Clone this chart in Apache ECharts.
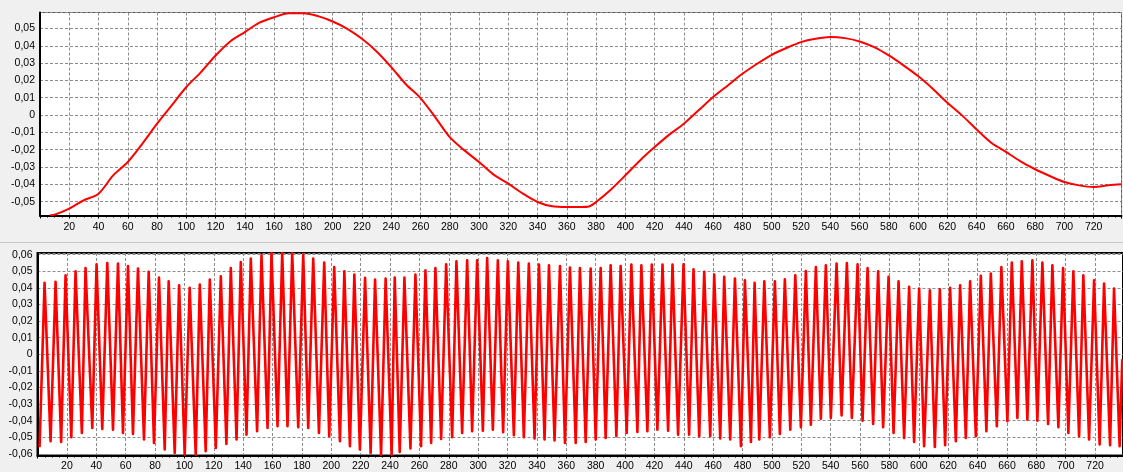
<!DOCTYPE html>
<html>
<head>
<meta charset="utf-8">
<script src="https://cdn.jsdelivr.net/npm/echarts@6/dist/echarts.min.js"></script>
<style>
html,body{margin:0;padding:0;background:#f0f0f0;}
#c{width:1123px;height:472px;}
</style>
</head>
<body>
<div id="c"></div>
<script>
// ---- top chart: smooth signal ----
const topX = [7,10,20,30,40,50,60,70,80,90,100,110,120,130,140,150,160,170,180,190,200,210,220,230,240,250,260,270,280,290,300,310,320,330,340,350,360,370,375,380,390,400,410,420,430,440,450,460,470,480,490,500,510,520,530,540,550,560,570,580,590,600,610,620,630,640,650,660,670,680,690,700,710,720,730,739];
const topY = [-0.0579,-0.0575,-0.054,-0.0492,-0.0454,-0.0348,-0.0271,-0.0165,-0.005,0.0056,0.0162,0.0248,0.0344,0.0425,0.0479,0.0533,0.0565,0.0587,0.0588,0.0571,0.054,0.0498,0.044,0.0367,0.0277,0.0178,0.0098,-0.0012,-0.0128,-0.0204,-0.0271,-0.0344,-0.0396,-0.0454,-0.0502,-0.0527,-0.0531,-0.0531,-0.0528,-0.0502,-0.0431,-0.0348,-0.0262,-0.0185,-0.0113,-0.005,0.0027,0.0104,0.0171,0.0238,0.0296,0.0348,0.0387,0.0421,0.044,0.045,0.0444,0.0425,0.0392,0.0344,0.0287,0.0225,0.0152,0.0071,-0.0002,-0.0083,-0.016,-0.0213,-0.0267,-0.0313,-0.0352,-0.0387,-0.0406,-0.0415,-0.0406,-0.04];

// ---- bottom chart: oscillating signal, successive troughs / peaks ----
const lowX = [1.4,4.8,8.9,12.3,16.1,19.1,23.0,25.9,30.2,32.7,37.3,40.2,44.1,47.5,51.4,54.8,58.2,61.6,65.0,68.4,72.5,75.7,79.3,82.7,86.6,89.3,93.4,96.4,100.2,103.6,107.7,110.5,114.5,117.3,121.4,124.8,128.6,131.6,135.5,138.4,142.3,145.2,149.5,152.5,156.6,159.3,163.4,166.6,170.2,173.4,177.5,180.9,184.3,187.7,191.6,195.2,198.6,202.0,205.9,208.9,212.7,215.7,219.5,223.0,226.8,229.8,233.9,237.0,241.1,243.2,246.6,249.8,253.9,257.3,261.1,264.1,268.0,270.9,274.8,278.2,282.3,285.2,289.1,292.5,295.9,299.3,303.2,306.1,310.0,313.4,317.0,320.2,324.3,327.3,331.1,334.5,338.4,341.4,345.2,348.2,352.0,355.7,359.1,362.5,366.4,369.3,373.2,376.6,380.0,383.4,386.8,390.2,394.1,397.0,401.1,404.3,408.4,411.1,415.2,418.2,422.0,425.5,429.3,432.3,436.1,439.8,443.6,446.6,450.5,453.9,458.0,460.7,464.8,467.5,471.6,474.8,478.9,481.6,485.7,488.2,491.4,494.8,498.6,502.0,505.4,508.8,512.5,515.9,519.7,523.1,526.5,529.9,533.3,536.7,540.1,544.0,547.4,551.0,554.4,558.3,561.7,565.1,568.9,572.3,575.7,579.4,582.8,586.2,590.0,593.4,596.8,600.2,603.6,607.5,610.9,614.3,617.9,621.3,625.2,628.1,632.0,634.9,638.8,642.2,646.0,649.0,653.1,656.2,660.3,663.3,667.1,670.1,673.9,677.3,680.7,684.1,688.0,690.9,695.0,698.2,701.8,705.2,709.1,712.0,715.9,719.3,723.1,726.1,730.2,732.9,736.7,738.5];
const lowY = [-0.056,0.043,-0.0524,0.0436,-0.0528,0.0476,-0.05,0.05,-0.0474,0.052,-0.0444,0.0542,-0.045,0.055,-0.0454,0.0546,-0.0474,0.0532,-0.048,0.0516,-0.0514,0.0496,-0.0534,0.0462,-0.0574,0.044,-0.0594,0.0416,-0.0605,0.04,-0.0605,0.042,-0.0584,0.045,-0.0564,0.047,-0.054,0.052,-0.0514,0.0556,-0.0484,0.0576,-0.0464,0.0596,-0.0444,0.061,-0.0434,0.061,-0.0434,0.061,-0.044,0.06,-0.0444,0.0576,-0.0474,0.0552,-0.0494,0.0526,-0.0524,0.05,-0.0554,0.048,-0.0574,0.046,-0.0594,0.045,-0.0605,0.0456,-0.0605,0.0462,-0.0588,0.0462,-0.0568,0.048,-0.0554,0.0506,-0.0534,0.052,-0.051,0.0542,-0.05,0.056,-0.0474,0.0566,-0.0464,0.0566,-0.046,0.058,-0.0454,0.0566,-0.047,0.056,-0.0488,0.0552,-0.05,0.0546,-0.0508,0.054,-0.0514,0.0536,-0.052,0.0532,-0.0534,0.0522,-0.0534,0.052,-0.0528,0.0516,-0.0514,0.052,-0.0504,0.0536,-0.0494,0.0532,-0.0474,0.054,-0.0468,0.0536,-0.0464,0.054,-0.0454,0.054,-0.046,0.054,-0.0484,0.0542,-0.0484,0.0512,-0.0494,0.0496,-0.0494,0.048,-0.0508,0.0466,-0.0514,0.0456,-0.0554,0.0446,-0.0528,0.043,-0.0514,0.044,-0.05,0.044,-0.048,0.0452,-0.0454,0.0476,-0.044,0.0502,-0.0424,0.0526,-0.0388,0.0536,-0.0384,0.0546,-0.0368,0.055,-0.0384,0.0542,-0.04,0.052,-0.042,0.05,-0.044,0.0466,-0.0474,0.044,-0.0504,0.0406,-0.0528,0.0396,-0.0554,0.0386,-0.0558,0.0392,-0.0548,0.04,-0.0524,0.0416,-0.0504,0.044,-0.0494,0.0472,-0.0464,0.0486,-0.0434,0.0526,-0.0404,0.0552,-0.0384,0.056,-0.0394,0.0566,-0.04,0.0552,-0.042,0.0536,-0.044,0.052,-0.0474,0.05,-0.0494,0.0476,-0.0514,0.0446,-0.0544,0.0426,-0.0548,0.0396,-0.0554,-0.003];

const xMin = 0, xMax = 739, xStep = 20;
const topRange = [-0.058, 0.0592];
const lowRange = [-0.061, 0.061];

const FONT = 'Liberation Sans';
function yFmt(v){
  const r = Math.round(v*100)/100;
  if (Math.abs(r) < 1e-9) return '0';
  return r.toFixed(2).replace('.', ',');
}
const gridLine = {show:true, lineStyle:{color:'#8c8c8c', type:[3,2], width:1}};
function xAxis(gi, margin){
  return {type:'value', gridIndex:gi, min:xMin, max:xMax, interval:xStep,
    axisLine:{show:true, onZero:false, lineStyle:{color:'#000', width:2}},
    axisTick:{show:true, length:3, lineStyle:{color:'#000'}},
    minorTick:{show:true, splitNumber:4, length:2, lineStyle:{color:'#000'}},
    axisLabel:{color:'#000', fontFamily:FONT, fontSize:10.5, margin:margin, showMinLabel:false, showMaxLabel:false},
    splitLine:gridLine};
}
function yAxis(gi, range){
  return {type:'value', gridIndex:gi, min:range[0], max:range[1], splitNumber:12,
    axisLine:{show:true, onZero:false, lineStyle:{color:'#000', width:2}},
    axisTick:{show:false},
    axisLabel:{color:'#000', fontFamily:FONT, fontSize:10.5, margin:5, formatter:yFmt, showMinLabel:false, showMaxLabel:false},
    splitLine:gridLine};
}
const chart = echarts.init(document.getElementById('c'), null, {renderer:'canvas'});
chart.setOption({
  animation:false,
  backgroundColor:'#f0f0f0',
  graphic:[{type:'rect', shape:{x:0, y:242, width:1123, height:1}, style:{fill:'#c8c8c8'}, silent:true}],
  grid:[
    {left:40, top:12.5, right:1.5, height:203, show:true, backgroundColor:'#fff', borderColor:'#555', borderWidth:1},
    {left:37.5, top:253, right:0, height:202.5, show:true, backgroundColor:'#fff', borderColor:'#000', borderWidth:2}
  ],
  xAxis:[xAxis(0,6), xAxis(1,5)],
  yAxis:[yAxis(0, topRange), yAxis(1, lowRange)],
  series:[
    {type:'line', xAxisIndex:0, yAxisIndex:0, data:topX.map((x,i)=>[x, topY[i]]), smooth:0.3, symbol:'none', clip:true,
     lineStyle:{color:'#ff0000', width:2}},
    {type:'line', xAxisIndex:1, yAxisIndex:1, data:lowX.map((x,i)=>[x, lowY[i]]), symbol:'none', clip:true,
     lineStyle:{color:'#ff0000', width:2.6, join:'round'}}
  ]
});
</script>
</body>
</html>
